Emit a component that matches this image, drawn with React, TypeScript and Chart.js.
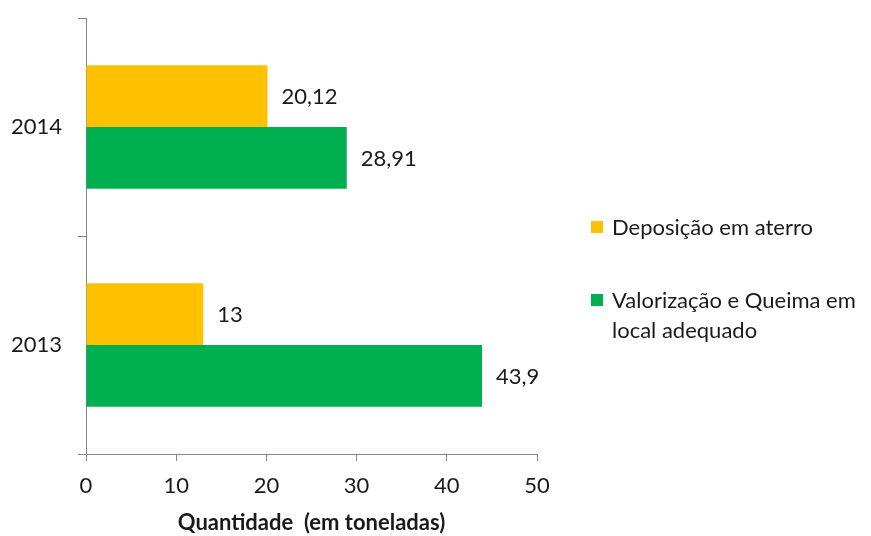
import React, { useEffect, useRef } from "react";
import { Chart, registerables } from "chart.js";

Chart.register(...registerables);

const categories = ["2014", "2013"];
const seriesNames = ["Deposição em aterro", "Valorização e Queima em local adequado"];
const deposicao = [20.12, 13];
const valorizacao = [28.91, 43.9];
const xTicks = [0, 10, 20, 30, 40, 50];
const colors = ["#FFC000", "#00B050"];

const FONT = "Lato, 'Open Sans', sans-serif";
const TEXT = "#1a1a1a";

const labelPlugin = {
  id: "barLabels",
  afterDatasetsDraw(chart: any) {
    const ctx = chart.ctx;
    ctx.save();
    ctx.font = `22px ${FONT}`;
    ctx.fillStyle = TEXT;
    ctx.textAlign = "left";
    ctx.textBaseline = "middle";
    chart.data.datasets.forEach((ds: any, di: number) => {
      const meta = chart.getDatasetMeta(di);
      meta.data.forEach((bar: any, i: number) => {
        const v = ds.data[i] as number;
        const txt = String(v).replace(".", ",");
        ctx.fillText(txt, bar.x + 14, bar.y + 1);
      });
    });
    ctx.restore();
  },
};

export default function App() {
  const ref = useRef<HTMLCanvasElement | null>(null);
  useEffect(() => {
    if (!ref.current) return;
    const chart = new Chart(ref.current, {
      type: "bar",
      data: {
        labels: categories,
        datasets: [
          { label: seriesNames[0], data: deposicao, backgroundColor: colors[0], categoryPercentage: 0.566, barPercentage: 1 },
          { label: seriesNames[1], data: valorizacao, backgroundColor: colors[1], categoryPercentage: 0.566, barPercentage: 1 },
        ],
      },
      options: {
        indexAxis: "y",
        animation: false,
        responsive: false,
        maintainAspectRatio: false,
        layout: { padding: { left: 0, top: 18, right: 334, bottom: 0 } },
        plugins: { legend: { display: false }, tooltip: { enabled: false } },
        scales: {
          x: {
            min: 0,
            max: 50,
            afterBuildTicks(scale: any) {
              scale.ticks = xTicks.map((v) => ({ value: v }));
            },
            afterFit(scale: any) {
              scale.height = 82;
              scale.paddingLeft = 0;
              scale.paddingRight = 0;
            },
            grid: { drawOnChartArea: false, drawTicks: true, tickLength: 7, color: "#868686" },
            border: { color: "#868686", width: 1 },
            ticks: { font: { family: FONT, size: 22 }, color: TEXT, padding: 12 },
            title: {
              display: true,
              text: "Quantidade  (em toneladas)",
              font: { family: FONT, size: 22, weight: "bold" },
              color: TEXT,
              padding: { top: 5, bottom: 0 },
            },
          },
          y: {
            afterFit(scale: any) {
              scale.width = 86;
              scale.paddingTop = 0;
              scale.paddingBottom = 0;
            },
            grid: { drawOnChartArea: false, drawTicks: true, tickLength: 8, color: "#868686", offset: true },
            border: { color: "#868686", width: 1 },
            ticks: { font: { family: FONT, size: 22 }, color: TEXT, padding: 16 },
          },
        },
      },
      plugins: [labelPlugin],
    });
    return () => chart.destroy();
  }, []);

  const legendItem = (color: string, text: React.ReactNode, top: number) => (
    <div style={{ position: "absolute", left: 591, top, display: "flex", alignItems: "flex-start" }}>
      <div style={{ width: 12, height: 12, background: color, marginTop: 9, marginRight: 9 }} />
      <div style={{ fontFamily: FONT, fontSize: 22, color: TEXT, lineHeight: "30px", width: 270 }}>{text}</div>
    </div>
  );

  return (
    <div style={{ position: "absolute", left: 0, top: 0, width: 871, height: 536, background: "#fff" }}>
      <canvas ref={ref} width={871} height={536} style={{ position: "absolute", left: 0, top: 0 }} />
      {legendItem(colors[0], seriesNames[0], 212)}
      {legendItem(colors[1], <>Valorização e Queima em<br />local adequado</>, 285)}
    </div>
  );
}
